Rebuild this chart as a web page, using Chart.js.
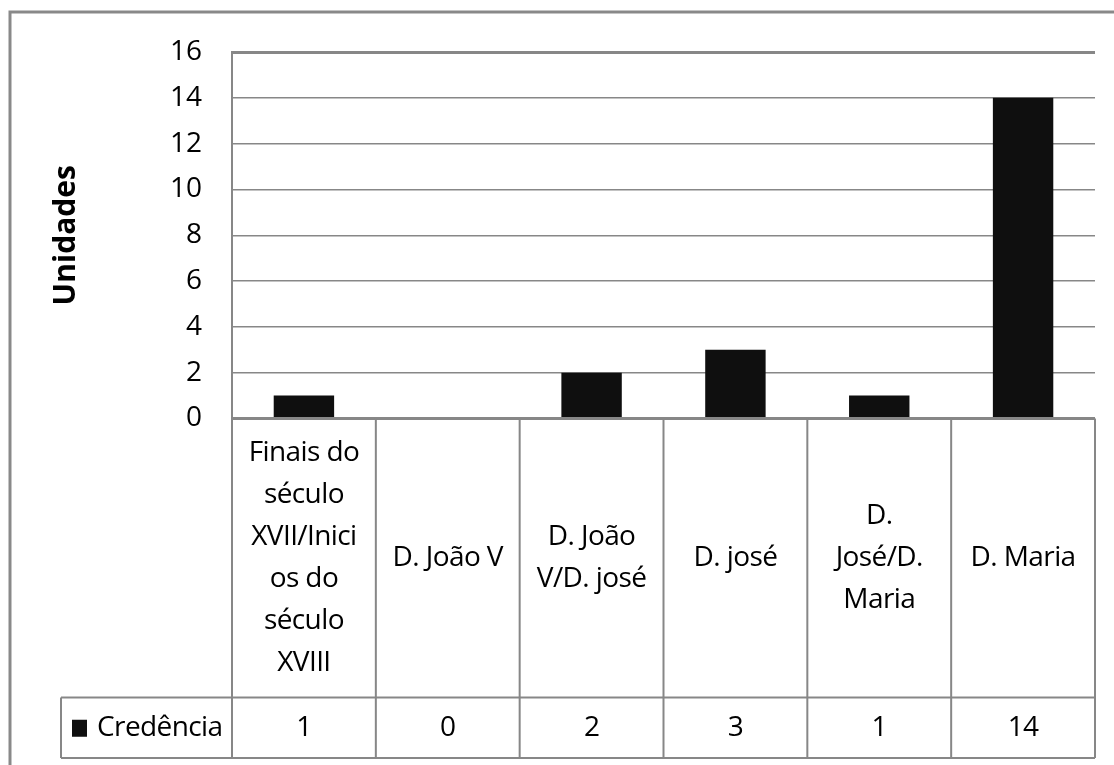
<!DOCTYPE html>
<html>
<head>
<meta charset="utf-8">
<script src="https://cdn.jsdelivr.net/npm/chart.js@4.4.1/dist/chart.umd.min.js"></script>
<style>
html,body{margin:0;padding:0;background:#fff;overflow:hidden}
#wrap{width:1114px;height:765px;position:relative}
</style>
</head>
<body>
<div id="wrap"><canvas id="c" width="1114" height="765"></canvas></div>
<script>
// ---- data ----
const categories = [
  "Finais do século XVII/Inicios do século XVIII",
  "D. João V",
  "D. João V/D. josé",
  "D. josé",
  "D. José/D. Maria",
  "D. Maria"
];
const categoryLines = [
  ["Finais do", "século", "XVII/Inici", "os do", "século", "XVIII"],
  ["D. João V"],
  ["D. João", "V/D. josé"],
  ["D. josé"],
  ["D.", "José/D.", "Maria"],
  ["D. Maria"]
];
const seriesName = "Credência";
const credencia = [1, 0, 2, 3, 1, 14];
const yTickValues = [0, 2, 4, 6, 8, 10, 12, 14, 16];
const yTitle = "Unidades";

// ---- style ----
const FONT = "'Open Sans', 'Liberation Sans', sans-serif";
const GRID = "#878787";
const BAR = "#0f0f0f";

const tablePlugin = {
  id: 'dataTable',
  afterDraw(chart) {
    const ctx = chart.ctx;
    const area = chart.chartArea;
    const xs = chart.scales.x;
    const n = categories.length;
    const colW = (area.right - area.left) / n;
    const top = area.bottom;
    const rowBottom = 697.5;
    const legBottom = 758;
    const legLeft = 61;

    ctx.save();
    // outer frame
    ctx.strokeStyle = "#898989";
    ctx.lineWidth = 3;
    ctx.beginPath();
    ctx.moveTo(10, 765);
    ctx.lineTo(10, 12);
    ctx.lineTo(1114, 12);
    ctx.stroke();

    // table lines
    ctx.strokeStyle = GRID;
    ctx.lineWidth = 2;
    ctx.beginPath();
    for (let i = 0; i <= n; i++) {
      const x = i < n ? xs.getPixelForValue(i) - colW / 2 : xs.getPixelForValue(n - 1) + colW / 2;
      ctx.moveTo(x, top);
      ctx.lineTo(x, legBottom);
    }
    ctx.moveTo(legLeft, rowBottom);
    ctx.lineTo(area.right, rowBottom);
    ctx.moveTo(legLeft, legBottom);
    ctx.lineTo(area.right, legBottom);
    ctx.moveTo(legLeft, rowBottom);
    ctx.lineTo(legLeft, legBottom);
    ctx.stroke();

    // category labels
    ctx.fillStyle = "#000";
    ctx.font = "28px " + FONT;
    if ('letterSpacing' in ctx) ctx.letterSpacing = "-0.6px";
    ctx.textAlign = "center";
    ctx.textBaseline = "middle";
    const lh = 42;
    const midY = (top + rowBottom) / 2;
    for (let i = 0; i < n; i++) {
      const cx = xs.getPixelForValue(i);
      const lines = categoryLines[i];
      const y0 = midY - (lines.length - 1) * lh / 2;
      lines.forEach((t, k) => ctx.fillText(t, cx, y0 + k * lh));
    }

    // legend row
    const legY = (rowBottom + legBottom) / 2;
    ctx.fillStyle = BAR;
    ctx.fillRect(72, legY - 8, 15, 17);
    ctx.fillStyle = "#000";
    ctx.textAlign = "left";
    ctx.fillText(seriesName, 97, legY);
    ctx.textAlign = "center";
    for (let i = 0; i < n; i++) {
      ctx.fillText(String(credencia[i]), xs.getPixelForValue(i), legY);
    }
    ctx.restore();
  }
};

new Chart(document.getElementById('c'), {
  type: 'bar',
  data: {
    labels: categories,
    datasets: [{
      label: seriesName,
      data: credencia,
      backgroundColor: BAR,
      borderWidth: 0,
      categoryPercentage: 1.0,
      barPercentage: 0.42
    }]
  },
  options: {
    responsive: false,
    animation: false,
    devicePixelRatio: 1,
    layout: { padding: { left: 0, right: 19, top: 52, bottom: 346.5 } },
    plugins: { legend: { display: false }, tooltip: { enabled: false } },
    scales: {
      x: { display: false },
      y: {
        min: 0, max: 16,
        afterBuildTicks: s => { s.ticks = yTickValues.map(v => ({ value: v })); },
        afterFit: s => { s.width = 232; },
        ticks: { color: "#000", padding: 30, font: { family: FONT, size: 28 } },
        grid: {
          color: GRID,
          drawTicks: false,
          lineWidth: c => (c.tick && (c.tick.value === 16 || c.tick.value === 0)) ? 3 : 1.5
        },
        border: { display: true, color: GRID, width: 2 },
        title: {
          display: true, text: yTitle, color: "#000",
          font: { family: FONT, size: 30, weight: 'bold' },
          padding: { top: 48, bottom: 0 }
        }
      }
    }
  },
  plugins: [tablePlugin]
});
</script>
</body>
</html>
